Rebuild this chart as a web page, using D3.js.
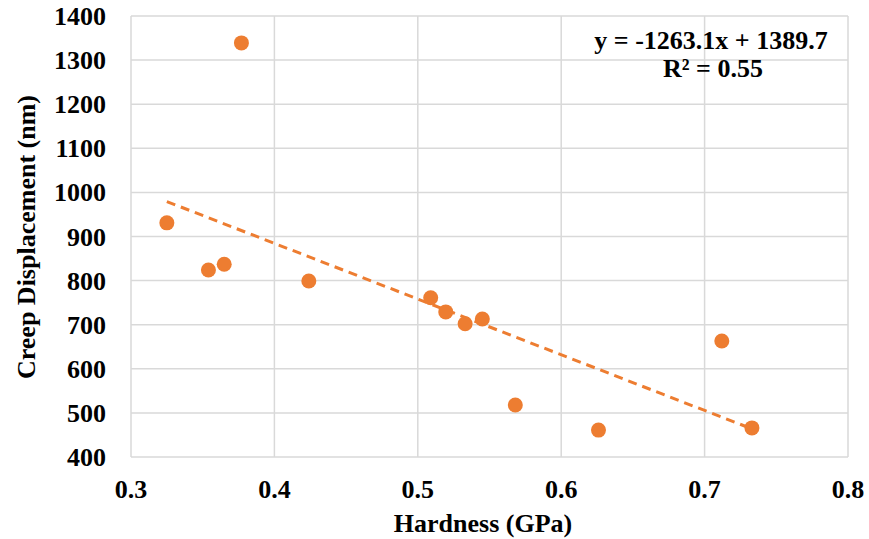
<!DOCTYPE html>
<html><head><meta charset="utf-8">
<script src="https://cdn.jsdelivr.net/npm/d3@7"></script>
<style>body{margin:0;background:#fff}svg{display:block}</style>
</head><body><svg id="c" width="869" height="539" font-family="'Liberation Serif', 'Times New Roman', serif" font-weight="bold"></svg>
<script>
const hardness = [0.377, 0.325, 0.354, 0.365, 0.424, 0.509, 0.5195, 0.533, 0.545, 0.568, 0.626, 0.712, 0.733];
const creep = [1339, 931, 824, 837, 799, 761, 729, 702, 713, 518, 461, 663, 466];
const xTicks = [0.3, 0.4, 0.5, 0.6, 0.7, 0.8];
const yTicks = [400, 500, 600, 700, 800, 900, 1000, 1100, 1200, 1300, 1400];
const slope = -1263.1, intercept = 1389.7;
const trendRange = [0.325, 0.733];

const svg = d3.select("#c");
const m = {l:131, t:16, r:848, b:457};
const x = d3.scaleLinear().domain([0.3,0.8]).range([m.l,m.r]);
const y = d3.scaleLinear().domain([400,1400]).range([m.b,m.t]);

const g = svg.append("g");
g.selectAll(".vg").data(xTicks).enter().append("line")
 .attr("x1",d=>x(d)).attr("x2",d=>x(d)).attr("y1",m.t).attr("y2",m.b)
 .attr("stroke","#d9d9d9").attr("stroke-width",1.5);
g.selectAll(".hg").data(yTicks).enter().append("line")
 .attr("x1",m.l).attr("x2",m.r).attr("y1",d=>y(d)).attr("y2",d=>y(d))
 .attr("stroke","#d9d9d9").attr("stroke-width",1.5);

g.selectAll(".xl").data(xTicks).enter().append("text")
 .attr("x",d=>x(d)).attr("y",498).attr("text-anchor","middle")
 .attr("font-size",26).text(d=>d3.format(".1f")(d));
g.selectAll(".yl").data(yTicks).enter().append("text")
 .attr("x",106).attr("y",d=>y(d)+9).attr("text-anchor","end")
 .attr("font-size",26).text(d=>d);

svg.append("line")
 .attr("x1",x(trendRange[0])).attr("y1",y(slope*trendRange[0]+intercept))
 .attr("x2",x(trendRange[1])).attr("y2",y(slope*trendRange[1]+intercept))
 .attr("stroke","#ED7D31").attr("stroke-width",3).attr("stroke-dasharray","9,6");

svg.selectAll("circle").data(hardness).enter().append("circle")
 .attr("cx",d=>x(d)).attr("cy",(d,i)=>y(creep[i])).attr("r",7.5).attr("fill","#ED7D31");

svg.append("text").attr("x",711).attr("y",49).attr("text-anchor","middle").attr("font-size",26)
 .text("y = -1263.1x + 1389.7");
svg.append("text").attr("x",713).attr("y",77).attr("text-anchor","middle").attr("font-size",26)
 .text("R² = 0.55");

svg.append("text").attr("x",483).attr("y",532).attr("text-anchor","middle").attr("font-size",26)
 .text("Hardness (GPa)");
svg.append("text").attr("transform","translate(35,237) rotate(-90)").attr("text-anchor","middle").attr("font-size",26)
 .text("Creep Displacement (nm)");
</script></body></html>
